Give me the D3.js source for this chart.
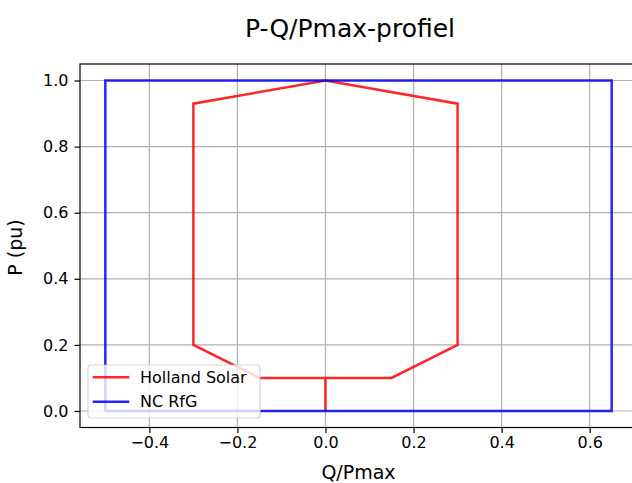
<!DOCTYPE html>
<html>
<head>
<meta charset="utf-8">
<script src="https://cdn.jsdelivr.net/npm/d3@7"></script>
<style>
  html, body { margin: 0; padding: 0; background: #fff; }
  svg { display: block; font-family: "DejaVu Sans", sans-serif; }
</style>
</head>
<body>
<svg id="chart" width="632" height="483"></svg>
<script>
// P-Q capability curves (Q/Pmax on x, P in pu on y)
const hollandQ = [0, 0, -0.15, -0.3, -0.3, 0, 0.3, 0.3, 0.15, 0];
const hollandP = [0, 0.1, 0.1, 0.2, 0.93, 1.0, 0.93, 0.2, 0.1, 0.1];
const rfgQ = [-0.5, -0.5, 0.65, 0.65, -0.5];
const rfgP = [0, 1.0, 1.0, 0, 0];
const xTicks = [-0.4, -0.2, 0.0, 0.2, 0.4, 0.6];
const yTicks = [0.0, 0.2, 0.4, 0.6, 0.8, 1.0];
const seriesNames = ["Holland Solar", "NC RfG"];
const seriesColors = ["#ff0000", "#0000ff"];

const svg = d3.select("#chart");
const plot = { left: 80, right: 637, top: 64, bottom: 427.5 };

// 5% padding around the data range on both axes
const xMin = -0.5, xMax = 0.65, yMin = 0, yMax = 1.0;
const xPad = (xMax - xMin) * 0.05, yPad = (yMax - yMin) * 0.05;
const x = d3.scaleLinear().domain([xMin - xPad, xMax + xPad]).range([plot.left, plot.right]);
const y = d3.scaleLinear().domain([yMin - yPad, yMax + yPad]).range([plot.bottom, plot.top]);

const fmt = d3.format(".1f");

// grid
const grid = svg.append("g").attr("stroke", "#b0b0b0").attr("stroke-width", 1.2);
grid.selectAll("line.gx").data(xTicks).join("line")
  .attr("x1", d => x(d)).attr("x2", d => x(d))
  .attr("y1", plot.top).attr("y2", plot.bottom);
grid.selectAll("line.gy").data(yTicks).join("line")
  .attr("x1", plot.left).attr("x2", plot.right)
  .attr("y1", d => y(d)).attr("y2", d => y(d));

// axes
const xAxis = d3.axisBottom(x).tickValues(xTicks).tickFormat(fmt).tickSize(5.5).tickPadding(4);
const yAxis = d3.axisLeft(y).tickValues(yTicks).tickFormat(fmt).tickSize(5.5).tickPadding(6);

const gx = svg.append("g").attr("transform", `translate(0,${plot.bottom})`).call(xAxis);
const gy = svg.append("g").attr("transform", `translate(${plot.left},0)`).call(yAxis);
[gx, gy].forEach(g => {
  g.select(".domain").remove();
  g.selectAll(".tick line").attr("stroke", "#000").attr("stroke-width", 1.2);
  g.selectAll(".tick text").attr("fill", "#000").attr("font-size", 16)
    .attr("font-family", "DejaVu Sans, sans-serif");
});

// series lines
const line = d3.line().x(d => x(d[0])).y(d => y(d[1]));
const series = [
  d3.zip(hollandQ, hollandP),
  d3.zip(rfgQ, rfgP)
];
svg.append("g").selectAll("path").data(series).join("path")
  .attr("d", line)
  .attr("fill", "none")
  .attr("stroke", (d, i) => seriesColors[i])
  .attr("stroke-opacity", 0.85)
  .attr("stroke-width", 2.5)
  .attr("stroke-linejoin", "miter");

// frame
svg.append("rect")
  .attr("x", plot.left).attr("y", plot.top)
  .attr("width", plot.right - plot.left).attr("height", plot.bottom - plot.top)
  .attr("fill", "none").attr("stroke", "#000").attr("stroke-width", 1.2);

// legend
const legend = svg.append("g");
legend.append("rect")
  .attr("x", 88).attr("y", 365).attr("width", 172).attr("height", 53)
  .attr("rx", 3)
  .attr("fill", "#fff").attr("fill-opacity", 0.8)
  .attr("stroke", "#cccccc").attr("stroke-opacity", 0.8).attr("stroke-width", 1.2);
const items = legend.selectAll("g.item").data(seriesNames).join("g")
  .attr("transform", (d, i) => `translate(0,${377.3 + i * 24.4})`);
items.append("line")
  .attr("x1", 92.7).attr("x2", 129.3)
  .attr("stroke", (d, i) => seriesColors[i])
  .attr("stroke-opacity", 0.85)
  .attr("stroke-width", 2.5);
items.append("text")
  .attr("x", 140).attr("dy", "0.36em")
  .attr("font-size", 16).attr("fill", "#000")
  .text(d => d);

// titles
svg.append("text")
  .attr("x", 350).attr("y", 37)
  .attr("text-anchor", "middle").attr("font-size", 25).attr("fill", "#000")
  .text("P-Q/Pmax-profiel");
svg.append("text")
  .attr("x", (plot.left + plot.right) / 2).attr("y", 479)
  .attr("text-anchor", "middle").attr("font-size", 19).attr("fill", "#000")
  .text("Q/Pmax");
svg.append("text")
  .attr("transform", "translate(21.5,247.5) rotate(-90)")
  .attr("text-anchor", "middle").attr("font-size", 19).attr("fill", "#000")
  .text("P (pu)");
</script>
</body>
</html>
